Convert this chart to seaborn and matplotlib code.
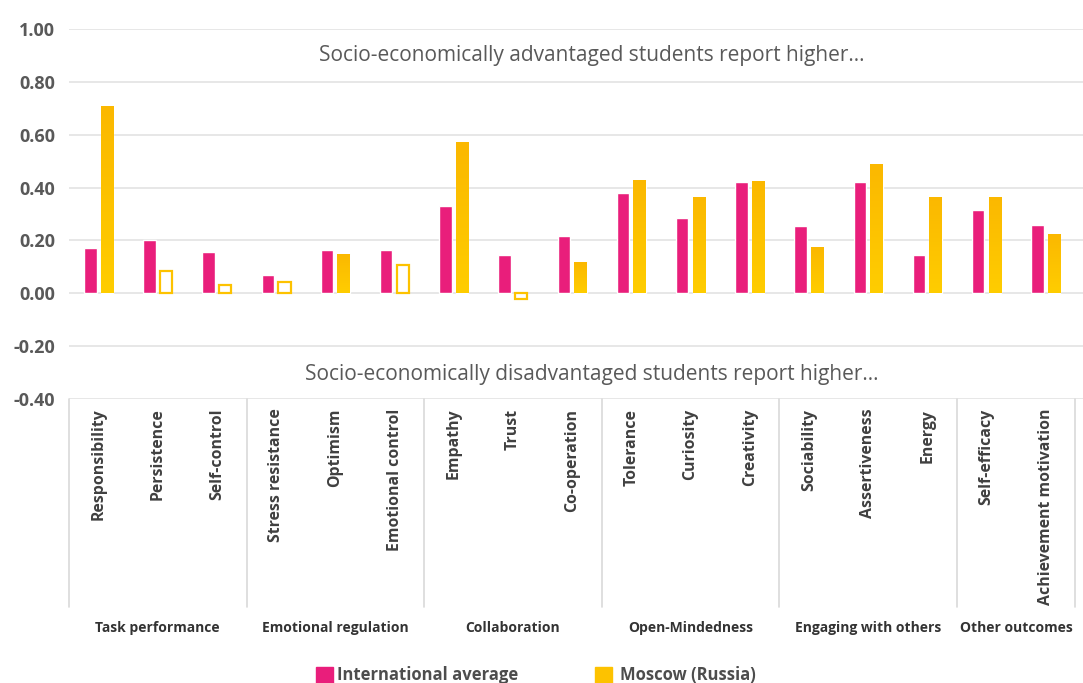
import numpy as np
import pandas as pd
import matplotlib
matplotlib.use("Agg")
import matplotlib.pyplot as plt
import matplotlib.transforms as mtransforms
from matplotlib.colors import LinearSegmentedColormap
from matplotlib.patches import Rectangle
import seaborn as sns


SKILLS = [
    "Responsibility", "Persistence", "Self-control",
    "Stress resistance", "Optimism", "Emotional control",
    "Empathy", "Trust", "Co-operation",
    "Tolerance", "Curiosity", "Creativity",
    "Sociability", "Assertiveness", "Energy",
    "Self-efficacy", "Achievement motivation",
]
GROUPS = [
    "Task performance", "Emotional regulation", "Collaboration",
    "Open-Mindedness", "Engaging with others", "Other outcomes",
]
GROUP_SIZES = [3, 3, 3, 3, 3, 2]

INTERNATIONAL = [0.170, 0.200, 0.155, 0.068, 0.163, 0.163, 0.330, 0.144, 0.216,
                 0.379, 0.284, 0.420, 0.254, 0.420, 0.144, 0.314, 0.258]
MOSCOW = [0.708, 0.083, 0.030, 0.044, 0.148, 0.107, 0.572, -0.020, 0.117,
          0.428, 0.364, 0.424, 0.174, 0.489, 0.364, 0.364, 0.223]
# Moscow differences that are not significant are drawn as hollow bars
MOSCOW_SIGNIFICANT = [True, False, False, False, True, False, True, False, True,
                      True, True, True, True, True, True, True, True]

SERIES = ["International average", "Moscow (Russia)"]
Y_TICKS = [-0.40, -0.20, 0.00, 0.20, 0.40, 0.60, 0.80, 1.00]

PINK = "#E91E7B"
YELLOW = "#FDC200"
YELLOW_TOP = "#FBB800"
YELLOW_BOTTOM = "#FFCD00"
GRID = "#E3E3E3"

W, H = 1083, 683


def build_frame():
    rows = []
    for name, values in zip(SERIES, [INTERNATIONAL, MOSCOW]):
        for skill, v in zip(SKILLS, values):
            rows.append({"skill": skill, "value": v, "series": name})
    return pd.DataFrame(rows)


def main():
    sns.set_theme(style="white")
    plt.rcParams["font.family"] = ["Open Sans", "DejaVu Sans"]

    df = build_frame()

    fig = plt.figure(figsize=(W / 100, H / 100), dpi=100)
    left, right, top, bottom = 69, 1083, 29, 399
    ax = fig.add_axes([left / W, 1 - bottom / H, (right - left) / W, (bottom - top) / H])

    sns.barplot(
        data=df, x="skill", y="value", hue="series", order=SKILLS, hue_order=SERIES,
        palette=[PINK, YELLOW], width=0.56, gap=0.25, saturation=1, errorbar=None,
        ax=ax, zorder=3,
    )
    ax.legend_.remove()

    # Moscow bars: hollow when not significant, gradient fill otherwise
    cmap = LinearSegmentedColormap.from_list("gold", [YELLOW_BOTTOM, YELLOW_TOP])
    grad = np.linspace(0, 1, 100).reshape(-1, 1)
    for bar, sig in zip(ax.containers[1], MOSCOW_SIGNIFICANT):
        if not sig:
            bar.set_facecolor("none")
            bar.set_edgecolor(YELLOW)
            bar.set_linewidth(1.6)
            continue
        x0, y0 = bar.get_x(), bar.get_y()
        w, h = bar.get_width(), bar.get_height()
        im = ax.imshow(grad, cmap=cmap, origin="lower", aspect="auto",
                       extent=[x0, x0 + w, min(y0, y0 + h), max(y0, y0 + h)],
                       zorder=4)
        im.set_clip_path(bar)

    ax.set_xlim(-0.5, 16.63)
    ax.set_ylim(-0.40, 1.00)
    ax.set_yticks(Y_TICKS)
    ax.set_yticklabels([f"{t:.2f}" for t in Y_TICKS], fontsize=13, fontweight="bold",
                       color="#595959")
    ax.yaxis.grid(True, color=GRID, linewidth=1.2, zorder=0)
    ax.tick_params(axis="y", length=0, pad=10)
    ax.tick_params(axis="x", length=0, pad=7)
    ax.set_xticks(range(len(SKILLS)))
    ax.set_xticklabels(SKILLS, rotation=90, fontsize=11.4, fontweight="bold",
                       color="#404040", va="top")
    ax.set_xlabel("")
    ax.set_ylabel("")
    for side in ["left", "right", "top", "bottom"]:
        ax.spines[side].set_visible(False)

    mixed = mtransforms.blended_transform_factory(ax.transAxes, ax.transData)
    ax.text(0.516, 0.900, "Socio-economically advantaged students report higher…",
            transform=mixed, ha="center", va="center", fontsize=15, color="#595959")
    ax.text(0.516, -0.307, "Socio-economically disadvantaged students report higher…",
            transform=mixed, ha="center", va="center", fontsize=15, color="#595959")

    # group separators and group names below the skill labels
    trans = mtransforms.blended_transform_factory(ax.transData, ax.transAxes)
    sep_depth = -(607 - bottom) / (bottom - top)
    label_y = -(628 - bottom) / (bottom - top)
    start = -0.5
    for name, size in zip(GROUPS, GROUP_SIZES):
        ax.plot([start, start], [0, sep_depth], color="#D9D9D9", linewidth=1.2,
                transform=trans, clip_on=False)
        ax.text(start + size / 2, label_y, name, transform=trans, ha="center",
                va="center", fontsize=10, fontweight="bold", color="#333333")
        start += size
    ax.plot([start, start], [0, sep_depth], color="#D9D9D9", linewidth=1.2,
            transform=trans, clip_on=False)

    # legend at the bottom (cut by the figure edge as in the source)
    legend_items = [(316, 337, SERIES[0], PINK), (595, 620, SERIES[1], YELLOW)]
    for sq_x, txt_x, label, color in legend_items:
        fig.patches.append(Rectangle((sq_x / W, 1 - 684 / H), 17 / W, 17 / H,
                                     transform=fig.transFigure, color=color))
        fig.text(txt_x / W, 1 - 675 / H, label, ha="left", va="center",
                 fontsize=12, fontweight="bold", color="#4D4D4D")

    fig.savefig("out.png", dpi=100)
    plt.close(fig)


if __name__ == "__main__":
    main()
